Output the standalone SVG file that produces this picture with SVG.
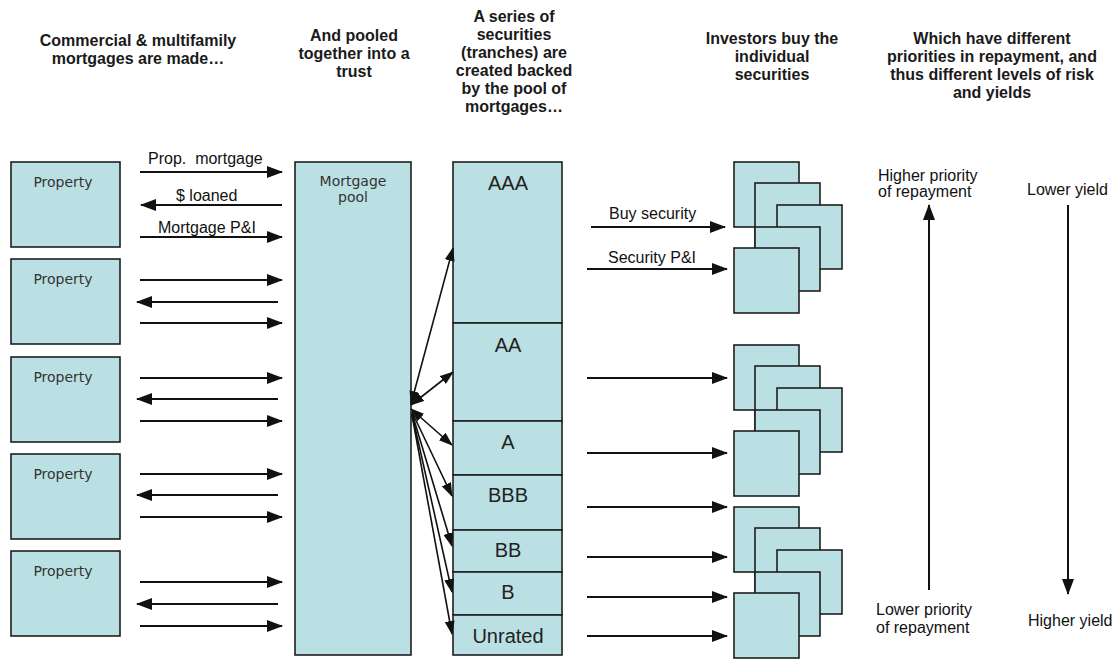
<svg xmlns="http://www.w3.org/2000/svg" width="1119" height="659" viewBox="0 0 1119 659">
<style>
.box{fill:#bbe0e3;stroke:#1e1e1e;stroke-width:1.6}
.hdr{font-family:"Liberation Sans",Arial,sans-serif;font-weight:bold;font-size:16px;fill:#1a1a1a;text-anchor:middle}
.lbl{font-family:"Liberation Sans",Arial,sans-serif;font-size:16px;fill:#111}
.tr{font-family:"Liberation Sans",Arial,sans-serif;font-size:20px;fill:#222;text-anchor:middle}
.nd{font-family:"DejaVu Sans",Verdana,sans-serif;font-size:14px;fill:#333;text-anchor:middle}
.ar{stroke:#111;stroke-width:2;fill:none;marker-end:url(#ah)}
.tc{stroke:#111;stroke-width:1.6;fill:none;marker-end:url(#sh)}
</style>
<defs>
<marker id="ah" markerUnits="userSpaceOnUse" markerWidth="16" markerHeight="12" refX="15" refY="6" orient="auto-start-reverse" viewBox="0 0 16 12"><path d="M0,0 L16,6 L0,12 z" fill="#111"/></marker>
<marker id="sh" markerUnits="userSpaceOnUse" markerWidth="14" markerHeight="10" refX="13" refY="5" orient="auto-start-reverse" viewBox="0 0 14 10"><path d="M0,0 L14,5 L0,10 z" fill="#111"/></marker>
</defs>
<rect width="1119" height="659" fill="#fff"/>

<g id="headers">
<text class="hdr" x="138" y="46">Commercial &amp; multifamily</text>
<text class="hdr" x="138" y="64">mortgages are made…</text>
<text class="hdr" x="354" y="41">And pooled</text>
<text class="hdr" x="354" y="59">together into a</text>
<text class="hdr" x="354" y="77">trust</text>
<text class="hdr" x="514" y="22">A series of</text>
<text class="hdr" x="514" y="40">securities</text>
<text class="hdr" x="514" y="58">(tranches) are</text>
<text class="hdr" x="514" y="76">created backed</text>
<text class="hdr" x="514" y="94">by the pool of</text>
<text class="hdr" x="514" y="112">mortgages…</text>
<text class="hdr" x="772" y="44">Investors buy the</text>
<text class="hdr" x="772" y="62">individual</text>
<text class="hdr" x="772" y="80">securities</text>
<text class="hdr" x="992" y="44">Which have different</text>
<text class="hdr" x="992" y="62">priorities in repayment, and</text>
<text class="hdr" x="992" y="80">thus different levels of risk</text>
<text class="hdr" x="992" y="98">and yields</text>
</g>

<g id="property1"><rect class="box" x="11" y="162" width="109" height="85"/><text class="nd" x="63" y="187">Property</text></g>
<g id="property2"><rect class="box" x="11" y="259" width="109" height="85"/><text class="nd" x="63" y="284">Property</text></g>
<g id="property3"><rect class="box" x="11" y="357" width="109" height="85"/><text class="nd" x="63" y="382">Property</text></g>
<g id="property4"><rect class="box" x="11" y="454" width="109" height="85"/><text class="nd" x="63" y="479">Property</text></g>
<g id="property5"><rect class="box" x="11" y="551" width="109" height="85"/><text class="nd" x="63" y="576">Property</text></g>

<g id="mortgage-pool"><rect class="box" x="295" y="162" width="116" height="493"/><text class="nd" x="353" y="186">Mortgage</text><text class="nd" x="353" y="202">pool</text></g>

<g id="tranches">
<g id="t-aaa"><rect class="box" x="453" y="162" width="109" height="161"/><text class="tr" x="508" y="190">AAA</text></g>
<g id="t-aa"><rect class="box" x="453" y="323" width="109" height="98"/><text class="tr" x="508" y="352">AA</text></g>
<g id="t-a"><rect class="box" x="453" y="421" width="109" height="54"/><text class="tr" x="508" y="449">A</text></g>
<g id="t-bbb"><rect class="box" x="453" y="475" width="109" height="55"/><text class="tr" x="508" y="502">BBB</text></g>
<g id="t-bb"><rect class="box" x="453" y="530" width="109" height="42"/><text class="tr" x="508" y="557">BB</text></g>
<g id="t-b"><rect class="box" x="453" y="572" width="109" height="43"/><text class="tr" x="508" y="599">B</text></g>
<g id="t-unrated"><rect class="box" x="453" y="615" width="109" height="40"/><text class="tr" x="508" y="643">Unrated</text></g>
</g>

<g id="investors1">
<rect class="box" x="734" y="162" width="65" height="65"/>
<rect class="box" x="755" y="183" width="65" height="65"/>
<rect class="box" x="777" y="205" width="65" height="64"/>
<rect class="box" x="755" y="227" width="65" height="64"/>
<rect class="box" x="734" y="248" width="65" height="65"/>
</g>
<g id="investors2">
<rect class="box" x="734" y="345" width="65" height="65"/>
<rect class="box" x="755" y="366" width="65" height="65"/>
<rect class="box" x="777" y="388" width="65" height="64"/>
<rect class="box" x="755" y="410" width="65" height="64"/>
<rect class="box" x="734" y="431" width="65" height="65"/>
</g>
<g id="investors3">
<rect class="box" x="734" y="507" width="65" height="65"/>
<rect class="box" x="755" y="528" width="65" height="65"/>
<rect class="box" x="777" y="550" width="65" height="64"/>
<rect class="box" x="755" y="572" width="65" height="64"/>
<rect class="box" x="734" y="593" width="65" height="65"/>
</g>

<g id="connectors">
<line class="ar" x1="140" y1="172" x2="282" y2="172"/>
<line class="ar" x1="282" y1="205" x2="141" y2="205"/>
<line class="ar" x1="140" y1="237" x2="282" y2="237"/>
<line class="ar" x1="140" y1="280" x2="282" y2="280"/>
<line class="ar" x1="278" y1="302" x2="137" y2="302"/>
<line class="ar" x1="140" y1="323" x2="282" y2="323"/>
<line class="ar" x1="140" y1="378" x2="282" y2="378"/>
<line class="ar" x1="278" y1="399" x2="137" y2="399"/>
<line class="ar" x1="140" y1="421" x2="282" y2="421"/>
<line class="ar" x1="140" y1="474" x2="282" y2="474"/>
<line class="ar" x1="278" y1="495" x2="137" y2="495"/>
<line class="ar" x1="140" y1="517" x2="282" y2="517"/>
<line class="ar" x1="140" y1="582" x2="282" y2="582"/>
<line class="ar" x1="278" y1="604" x2="137" y2="604"/>
<line class="ar" x1="140" y1="626" x2="282" y2="626"/>

<line class="tc" x1="411" y1="404" x2="453" y2="248" marker-start="url(#sh)"/>
<line class="tc" x1="411" y1="405" x2="453" y2="372" marker-start="url(#sh)"/>
<line class="tc" x1="411" y1="409" x2="452" y2="445" marker-start="url(#sh)"/>
<line class="tc" x1="412" y1="412" x2="452" y2="496"/>
<line class="tc" x1="412" y1="413" x2="452" y2="546"/>
<line class="tc" x1="412" y1="414" x2="452" y2="592"/>
<line class="tc" x1="412" y1="415" x2="452" y2="634"/>

<line class="ar" x1="591" y1="227" x2="725" y2="227"/>
<line class="ar" x1="587" y1="269" x2="727" y2="269"/>
<line class="ar" x1="587" y1="378" x2="727" y2="378"/>
<line class="ar" x1="587" y1="453" x2="727" y2="453"/>
<line class="ar" x1="587" y1="507" x2="727" y2="507"/>
<line class="ar" x1="587" y1="557" x2="727" y2="557"/>
<line class="ar" x1="587" y1="597" x2="727" y2="597"/>
<line class="ar" x1="587" y1="636" x2="727" y2="636"/>

<line class="ar" x1="929" y1="590" x2="929" y2="205"/>
<line class="ar" x1="1068" y1="205" x2="1068" y2="594"/>
</g>

<g id="labels">
<text class="lbl" x="148" y="164" xml:space="preserve">Prop.  mortgage</text>
<text class="lbl" x="176" y="201">$ loaned</text>
<text class="lbl" x="158" y="233">Mortgage P&amp;I</text>
<text class="lbl" x="609" y="219">Buy security</text>
<text class="lbl" x="608" y="263">Security P&amp;I</text>
<text class="lbl" x="878" y="181">Higher priority</text>
<text class="lbl" x="878" y="197">of repayment</text>
<text class="lbl" x="1027" y="195">Lower yield</text>
<text class="lbl" x="876" y="615">Lower priority</text>
<text class="lbl" x="876" y="633">of repayment</text>
<text class="lbl" x="1028" y="626">Higher yield</text>
</g>
</svg>
